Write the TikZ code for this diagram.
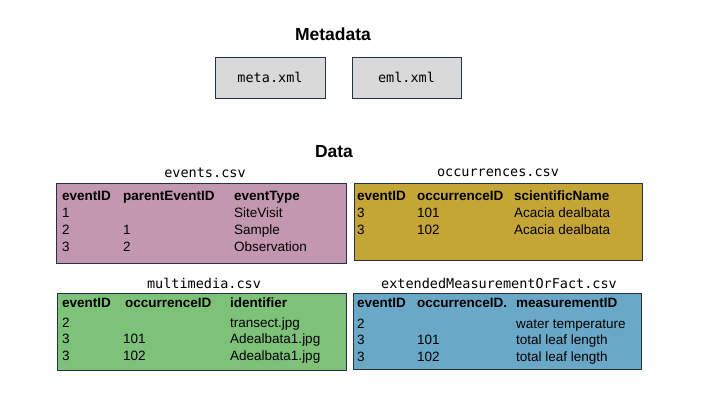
\documentclass[tikz,border=0pt]{standalone}
\usepackage{fontspec}
\setmainfont{Liberation Sans}
\newfontfamily\monof{DejaVu Sans Mono}
\definecolor{edgec}{HTML}{26304A}
\definecolor{grayf}{HTML}{D9D9D9}
\definecolor{evf}{HTML}{C497B1}
\definecolor{ocf}{HTML}{C4A535}
\definecolor{mmf}{HTML}{7EC27A}
\definecolor{emf}{HTML}{6AA8C8}
\tikzset{
  tbox/.style={draw=edgec, line width=0.9pt},
  ttl/.style={font=\fontsize{17.5}{20}\selectfont\bfseries, inner sep=0pt},
  flab/.style={font=\monof\fontsize{13.5}{16}\selectfont, inner sep=0pt},
  hd/.style={font=\fontsize{13.5}{16}\selectfont\bfseries, anchor=base west, inner sep=0pt},
  cell/.style={font=\fontsize{13.5}{16}\selectfont, anchor=base west, inner sep=0pt},
}
\begin{document}
\begin{tikzpicture}[x=1pt,y=-1pt]
\useasboundingbox (0,0) rectangle (720,405);
% Metadata
\node[ttl] (mtitle) at (333,34.5) {Metadata};
\draw[tbox, fill=grayf] (215,57) rectangle (325,98);
\node[flab] (meta) at (270,77.5) {meta.xml};
\draw[tbox, fill=grayf] (352,57) rectangle (461,98);
\node[flab] (eml) at (406.5,77.5) {eml.xml};
% Data
\node[ttl] (dtitle) at (334,152) {Data};
% events
\node[flab] (evlab) at (205,173) {events.csv};
\draw[tbox, fill=evf] (56,183) rectangle (346,263);
\node[hd] (e11) at (62,200) {eventID};
\node[hd] (e12) at (123,200) {parentEventID};
\node[hd] (e13) at (234,200) {eventType};
\node[cell] (e21) at (62,217) {1};
\node[cell] (e23) at (234,217) {SiteVisit};
\node[cell] (e31) at (62,234) {2};
\node[cell] (e32) at (123,234) {1};
\node[cell] (e33) at (234,234) {Sample};
\node[cell] (e41) at (62,251) {3};
\node[cell] (e42) at (123,251) {2};
\node[cell] (e43) at (234,251) {Observation};
% occurrences
\node[flab] (oclab) at (498,173) {occurrences.csv};
\draw[tbox, fill=ocf] (354,183) rectangle (642,260);
\node[hd] (o11) at (357,200) {eventID};
\node[hd] (o12) at (417,200) {occurrenceID};
\node[hd] (o13) at (514,200) {scientificName};
\node[cell] (o21) at (357,217) {3};
\node[cell] (o22) at (417,217) {101};
\node[cell] (o23) at (514,217) {Acacia dealbata};
\node[cell] (o31) at (357,234) {3};
\node[cell] (o32) at (417,234) {102};
\node[cell] (o33) at (514,234) {Acacia dealbata};
% multimedia
\node[flab] (mmlab) at (204,283) {multimedia.csv};
\draw[tbox, fill=mmf] (57,293) rectangle (346,370);
\node[hd] (m11) at (62,307) {eventID};
\node[hd] (m12) at (125,307) {occurrenceID};
\node[hd] (m13) at (230,307) {identifier};
\node[cell] (m21) at (62,327) {2};
\node[cell] (m23) at (230,327) {transect.jpg};
\node[cell] (m31) at (62,343) {3};
\node[cell] (m32) at (123,343) {101};
\node[cell] (m33) at (230,343) {Adealbata1.jpg};
\node[cell] (m41) at (62,360) {3};
\node[cell] (m42) at (123,360) {102};
\node[cell] (m43) at (230,360) {Adealbata1.jpg};
% extended measurement
\node[flab] (emlab) at (499,283) {extendedMeasurementOrFact.csv};
\draw[tbox, fill=emf] (353,293) rectangle (641,369);
\node[hd] (x11) at (357,307) {eventID};
\node[hd] (x12) at (417,307) {occurrenceID.};
\node[hd] (x13) at (516,307) {measurementID};
\node[cell] (x21) at (357,328) {2};
\node[cell] (x23) at (516,328) {water temperature};
\node[cell] (x31) at (357,344) {3};
\node[cell] (x32) at (417,344) {101};
\node[cell] (x33) at (516,344) {total leaf length};
\node[cell] (x41) at (357,361) {3};
\node[cell] (x42) at (417,361) {102};
\node[cell] (x43) at (516,361) {total leaf length};
\end{tikzpicture}
\end{document}
